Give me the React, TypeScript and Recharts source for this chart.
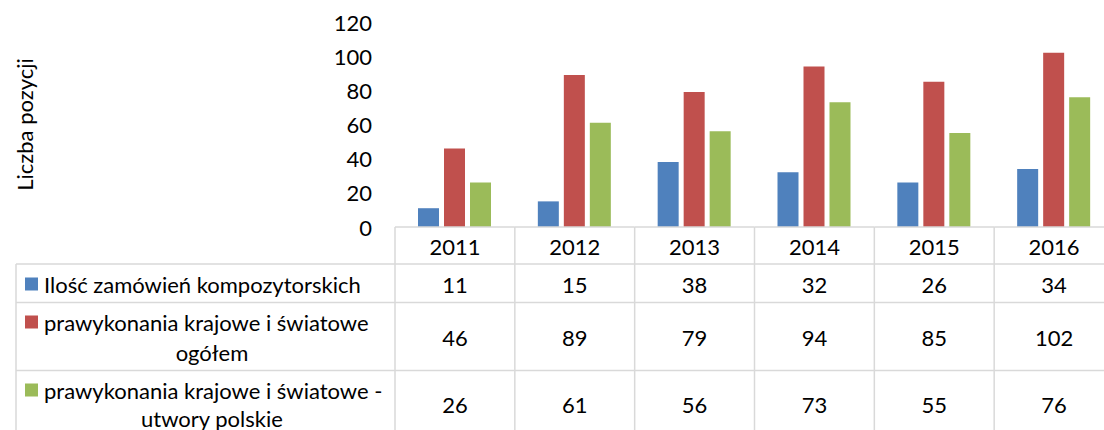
import React from 'react';
import { BarChart, Bar, XAxis, YAxis, Label } from 'recharts';

// data
const years = ['2011', '2012', '2013', '2014', '2015', '2016'];
const zamowienia = [11, 15, 38, 32, 26, 34];
const ogolem = [46, 89, 79, 94, 85, 102];
const polskie = [26, 61, 56, 73, 55, 76];
const yTicks = [0, 20, 40, 60, 80, 100, 120];

const seriesKeys = ['zamowienia', 'ogolem', 'polskie'];
const seriesValues = [zamowienia, ogolem, polskie];
const seriesColors = ['#4F81BD', '#C0504D', '#9BBB59'];
const seriesLabels = [
  ['Ilość zamówień kompozytorskich'],
  ['prawykonania krajowe i światowe', 'ogółem'],
  ['prawykonania krajowe i światowe -', 'utwory polskie'],
];
const yTitle = 'Liczba pozycji';

const data = years.map((year, i) => ({
  year,
  zamowienia: zamowienia[i],
  ogolem: ogolem[i],
  polskie: polskie[i],
}));

// layout
const W = 1120;
const H = 430;
const PLOT_LEFT = 395;
const PLOT_RIGHT = 1114;
const PLOT_TOP = 22;
const AXIS_Y = 227;
const COL_W = (PLOT_RIGHT - PLOT_LEFT) / years.length;
const ROW_LINES = [264, 302.5, 370.5];
const HEADER_MID = 246;
const ROW_MIDS = [284, 337, 404];
const GRID = '#D9D9D9';
const FONT = 'Lato, "Noto Sans", sans-serif';
const FS = 22;

const YTick = (props: any) => {
  const { x, y, payload } = props;
  return (
    <text x={x} y={y} textAnchor="end" dominantBaseline="central" fontFamily={FONT} fontSize={FS} fill="#000">
      {payload.value}
    </text>
  );
};

// each x tick draws one column of the data table under the plot
const TableColumn = (props: any) => {
  const { x, payload } = props;
  const i = years.indexOf(payload.value);
  const l = x - COL_W / 2;
  const r = x + COL_W / 2;
  return (
    <g>
      <line x1={l} x2={r} y1={AXIS_Y} y2={AXIS_Y} stroke={GRID} strokeWidth={1.5} />
      {ROW_LINES.map((ly) => (
        <line key={ly} x1={l} x2={r} y1={ly} y2={ly} stroke={GRID} strokeWidth={1.5} />
      ))}
      <line x1={l} x2={l} y1={AXIS_Y} y2={H + 10} stroke={GRID} strokeWidth={1.5} />
      {i === years.length - 1 && <line x1={r} x2={r} y1={AXIS_Y} y2={H + 10} stroke={GRID} strokeWidth={1.5} />}
      <text x={x} y={HEADER_MID} textAnchor="middle" dominantBaseline="central" fontFamily={FONT} fontSize={FS} fill="#000">
        {payload.value}
      </text>
      {seriesValues.map((vals, k) => (
        <text key={k} x={x} y={ROW_MIDS[k]} textAnchor="middle" dominantBaseline="central" fontFamily={FONT} fontSize={FS} fill="#000">
          {vals[i]}
        </text>
      ))}
    </g>
  );
};

const LegendColumn = () => {
  const left = 16;
  const lineTops = [264, 302.5, 370.5];
  const firstLine = [284, 322, 390];
  const secondLine = [0, 352, 418];
  return (
    <svg width={1104} height={H} style={{ position: 'absolute', left: 0, top: 0, pointerEvents: 'none' }}>
      {lineTops.map((ly) => (
        <line key={ly} x1={left} x2={PLOT_LEFT} y1={ly} y2={ly} stroke={GRID} strokeWidth={1.5} />
      ))}
      <line x1={left} x2={left} y1={264} y2={H + 10} stroke={GRID} strokeWidth={1.5} />
      {seriesLabels.map((lines, k) => (
        <g key={k}>
          <rect x={25} y={firstLine[k] - 6.5} width={13} height={13} fill={seriesColors[k]} />
          <text x={44} y={firstLine[k]} dominantBaseline="central" fontFamily={FONT} fontSize={FS} fill="#000">
            {lines[0]}
          </text>
          {lines[1] && (
            <text x={212} y={secondLine[k]} textAnchor="middle" dominantBaseline="central" fontFamily={FONT} fontSize={FS} fill="#000">
              {lines[1]}
            </text>
          )}
        </g>
      ))}
    </svg>
  );
};

export default function App() {
  return (
    <div style={{ position: 'absolute', left: 0, top: 0, width: 1104, height: H, overflow: 'hidden', background: '#fff' }}>
      <BarChart
        width={W}
        height={H}
        data={data}
        margin={{ top: PLOT_TOP, right: W - PLOT_RIGHT, left: 0, bottom: 0 }}
        barGap={5}
        barSize={21}
      >
        <XAxis
          dataKey="year"
          height={H - AXIS_Y}
          axisLine={false}
          tickLine={false}
          tickSize={0}
          tickMargin={0}
          interval={0}
          tick={<TableColumn />}
        />
        <YAxis
          width={PLOT_LEFT}
          domain={[0, 120]}
          ticks={yTicks}
          axisLine={false}
          tickLine={false}
          tickSize={0}
          tickMargin={23}
          tick={<YTick />}
        >
          <Label
            content={() => (
              <text
                x={24}
                y={124.5}
                transform="rotate(-90, 24, 124.5)"
                textAnchor="middle"
                dominantBaseline="central"
                fontFamily={FONT}
                fontSize={FS}
                fill="#000"
              >
                {yTitle}
              </text>
            )}
          />
        </YAxis>
        {seriesKeys.map((key, k) => (
          <Bar key={key} dataKey={key} fill={seriesColors[k]} isAnimationActive={false} />
        ))}
      </BarChart>
      <LegendColumn />
    </div>
  );
}
